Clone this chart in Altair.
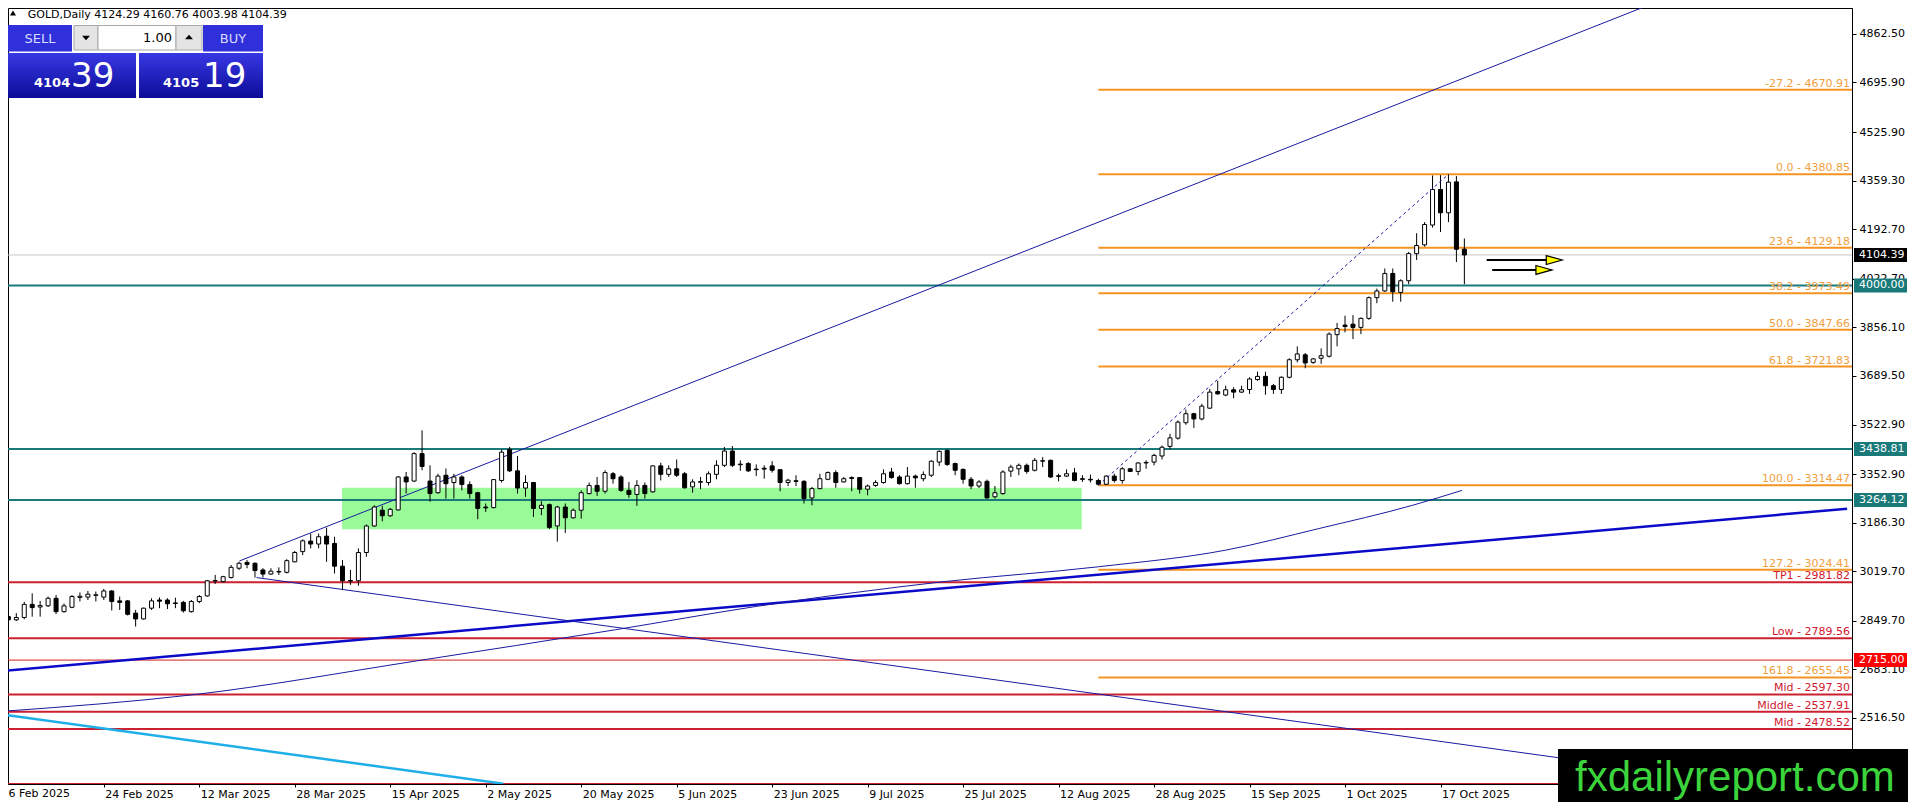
import json
import altair as alt
import pandas as pd

# ---------------- data ----------------
x_labels = ["6 Feb 2025", "24 Feb 2025", "12 Mar 2025", "28 Mar 2025", "15 Apr 2025",
            "2 May 2025", "20 May 2025", "5 Jun 2025", "23 Jun 2025", "9 Jul 2025",
            "25 Jul 2025", "12 Aug 2025", "28 Aug 2025", "15 Sep 2025", "1 Oct 2025",
            "17 Oct 2025"]
x_tick_idx = [0, 12, 24, 36, 48, 60, 72, 84, 96, 108, 120, 132, 144, 156, 168, 180]

y_ticks = [4862.50, 4695.90, 4525.90, 4359.30, 4192.70, 4022.70, 3856.10, 3689.50,
           3522.90, 3352.90, 3186.30, 3019.70, 2849.70, 2683.10, 2516.50]

opens = [2864, 2853, 2861, 2906, 2897, 2901, 2927, 2881, 2896, 2930,
         2931, 2937, 2931, 2952, 2918, 2918, 2876, 2856, 2893, 2921,
         2921, 2911, 2913, 2881, 2916, 2935, 2986, 2984, 2998, 3030,
         3050, 3047, 3024, 3010, 3017, 3016, 3052, 3087, 3123, 3113,
         3140, 3115, 3037, 2988, 2987, 3084, 3175, 3229, 3210, 3230,
         3343, 3329, 3423, 3329, 3289, 3349, 3324, 3343, 3317, 3289,
         3240, 3238, 3331, 3437, 3364, 3305, 3324, 3235, 3248, 3175,
         3240, 3203, 3229, 3286, 3314, 3294, 3354, 3343, 3297, 3283,
         3314, 3292, 3381, 3352, 3371, 3354, 3309, 3325, 3324, 3352,
         3383, 3432, 3387, 3389, 3370, 3373, 3381, 3368, 3324, 3330,
         3328, 3271, 3303, 3335, 3358, 3326, 3341, 3341, 3301, 3314,
         3324, 3360, 3343, 3320, 3346, 3337, 3349, 3394, 3434, 3389,
         3369, 3335, 3312, 3328, 3275, 3286, 3363, 3371, 3383, 3366,
         3397, 3400, 3347, 3346, 3357, 3337, 3335, 3331, 3318, 3346,
         3331, 3371, 3362, 3391, 3394, 3415, 3448, 3476, 3529, 3560,
         3542, 3579, 3636, 3624, 3642, 3634, 3643, 3677, 3688, 3656,
         3643, 3685, 3745, 3762, 3736, 3750, 3757, 3831, 3864, 3867,
         3856, 3887, 3958, 3981, 4041, 3976, 4016, 4109, 4139, 4207,
         4329, 4249, 4355, 4124.29]
highs = [2870, 2876, 2915, 2944, 2918, 2933, 2938, 2909, 2938, 2947,
         2952, 2950, 2959, 2955, 2933, 2921, 2887, 2895, 2927, 2930,
         2927, 2929, 2918, 2921, 2938, 2990, 3007, 3004, 3041, 3052,
         3058, 3050, 3030, 3030, 3033, 3061, 3089, 3129, 3149, 3149,
         3169, 3138, 3058, 3024, 3098, 3180, 3246, 3244, 3237, 3346,
         3360, 3428, 3503, 3383, 3354, 3372, 3354, 3349, 3328, 3292,
         3252, 3335, 3437, 3446, 3415, 3349, 3326, 3260, 3252, 3244,
         3252, 3235, 3297, 3324, 3343, 3366, 3360, 3349, 3326, 3332,
         3324, 3383, 3392, 3383, 3403, 3360, 3335, 3343, 3362, 3400,
         3446, 3449, 3400, 3394, 3386, 3383, 3397, 3369, 3337, 3349,
         3332, 3309, 3354, 3362, 3366, 3343, 3345, 3343, 3317, 3332,
         3369, 3374, 3349, 3377, 3351, 3362, 3400, 3434, 3438, 3392,
         3372, 3343, 3332, 3334, 3312, 3366, 3385, 3389, 3389, 3408,
         3411, 3403, 3354, 3369, 3374, 3349, 3351, 3337, 3349, 3354,
         3377, 3374, 3394, 3400, 3423, 3451, 3491, 3537, 3574, 3563,
         3594, 3645, 3673, 3656, 3651, 3656, 3685, 3704, 3704, 3662,
         3688, 3750, 3791, 3768, 3750, 3784, 3839, 3871, 3896, 3898,
         3890, 3962, 3989, 4058, 4058, 4021, 4115, 4179, 4217, 4377,
         4378, 4380.85, 4375, 4160.76]
lows = [2841, 2849, 2855, 2864, 2864, 2897, 2873, 2878, 2893, 2916,
        2921, 2916, 2921, 2885, 2887, 2868, 2830, 2854, 2887, 2893,
        2890, 2893, 2878, 2878, 2910, 2933, 2976, 2982, 2995, 3024,
        3030, 2998, 2998, 3007, 3007, 3012, 3050, 3075, 3098, 3098,
        3052, 3012, 2955, 2973, 2970, 3069, 3172, 3191, 3206, 3228,
        3286, 3326, 3366, 3258, 3286, 3269, 3269, 3297, 3269, 3198,
        3223, 3235, 3324, 3360, 3286, 3275, 3206, 3212, 3164, 3121,
        3151, 3200, 3200, 3283, 3278, 3286, 3320, 3292, 3271, 3244,
        3269, 3289, 3331, 3343, 3343, 3303, 3289, 3301, 3314, 3335,
        3377, 3377, 3364, 3360, 3346, 3337, 3358, 3294, 3312, 3312,
        3252, 3246, 3301, 3332, 3306, 3324, 3294, 3286, 3280, 3309,
        3320, 3337, 3317, 3317, 3306, 3328, 3343, 3381, 3381, 3349,
        3320, 3301, 3305, 3269, 3269, 3282, 3343, 3349, 3354, 3362,
        3377, 3340, 3328, 3343, 3328, 3326, 3324, 3314.47, 3316, 3324,
        3320, 3360, 3349, 3371, 3383, 3403, 3438, 3471, 3522, 3511,
        3537, 3577, 3625, 3620, 3613, 3631, 3628, 3673, 3625, 3628,
        3628, 3681, 3736, 3716, 3731, 3731, 3753, 3791, 3839, 3816,
        3833, 3882, 3939, 3978, 3944, 3944, 4004, 4087, 4133, 4198,
        4183, 4217, 4080, 4003.98]
closes = [2853, 2861, 2906, 2895, 2902, 2927, 2881, 2901, 2933, 2934,
          2941, 2939, 2952, 2916, 2913, 2872, 2856, 2893, 2918, 2917,
          2908, 2909, 2884, 2916, 2933, 2987, 2988, 3001, 3033, 3047,
          3043, 3022, 3010, 3020, 3019, 3056, 3084, 3124, 3113, 3138,
          3113, 3037, 2987, 2986, 3084, 3175, 3240, 3210, 3232, 3343,
          3326, 3423, 3379, 3286, 3346, 3320, 3343, 3317, 3286, 3235,
          3237, 3334, 3428, 3364, 3305, 3324, 3235, 3246, 3170, 3240,
          3203, 3229, 3289, 3314, 3294, 3358, 3337, 3297, 3283, 3314,
          3286, 3381, 3352, 3371, 3349, 3306, 3326, 3327, 3354, 3383,
          3432, 3383, 3385, 3364, 3368, 3370, 3366, 3324, 3332, 3328,
          3269, 3303, 3337, 3358, 3324, 3337, 3338, 3301, 3312, 3324,
          3354, 3341, 3320, 3346, 3340, 3351, 3397, 3431, 3386, 3366,
          3335, 3312, 3326, 3271, 3289, 3360, 3377, 3383, 3362, 3400,
          3399, 3343, 3345, 3354, 3331, 3335, 3333, 3318, 3346, 3331,
          3371, 3362, 3391, 3393, 3417, 3445, 3477, 3531, 3560, 3542,
          3586, 3634, 3628, 3642, 3634, 3642, 3679, 3688, 3656, 3643,
          3685, 3745, 3765, 3734, 3748, 3759, 3833, 3852, 3859, 3856,
          3887, 3958, 3981, 4041, 3978, 4016, 4109, 4137, 4209, 4329,
          4249, 4354, 4124, 4104.39]

bid_ask = [4104.39, 4105.19]
lot_size = "1.00"
symbol = "GOLD,Daily"

fib_levels = ["-27.2", "0.0", "23.6", "38.2", "50.0", "61.8", "100.0", "127.2", "161.8"]
fib_prices = [4670.91, 4380.85, 4129.18, 3973.49, 3847.66, 3721.83, 3314.47, 3024.41, 2655.45]
fib_start = [137]
fib_anchor_i = [137, 181]
fib_anchor_p = [3314.47, 4380.85]

red_names = ["TP1", "Low", "Mid", "Middle", "Mid"]
red_levels = [2981.82, 2789.56, 2597.30, 2537.91, 2478.52]
red_bottom = [2290.0]
thin_red_level = [2715.00]
teal_levels = [4000.00, 3438.81, 3264.12]

zone_i = [41.95, 134.9]
zone_p = [3164, 3306]

up_line_i = [29.05, 206.6]
up_line_p = [3055, 4966]
down_line_i = [31.2, 218.7]
down_line_p = [2998, 2290]
thick_line_i = [-0.4, 231.1]
thick_line_p = [2678, 3234]
cyan_line_i = [-0.4, 62.2]
cyan_line_p = [2527, 2291]
ma_i = [-0.4, 23.2, 51.5, 76.3, 94.0, 117.6, 137.0, 153.0, 164.7, 176.5, 182.7]
ma_p = [2540, 2596, 2713, 2819, 2899, 2984, 3035, 3092, 3166, 3246, 3297]

arrow_i0 = [185.8, 186.5]
arrow_i1 = [193.3, 192.0]
arrow_head_i = [194.3, 193.0]
arrow_p = [4087, 4053]

watermark = "fxdailyreport.com"

# ---------------- styling ----------------
W, H = 1844, 776
FONT = "DejaVu Sans"
TEAL = "#1A7A7A"
ORANGE = "#F39322"
ORANGE_T = "#F0A040"
RED = "#CC2030"
RED_T = "#D01830"
NAVY = "#1A1AA0"

XS = alt.Scale(domain=[0.5875, 231.09], nice=False, zero=False)
YS = alt.Scale(domain=[2290.0, 4951.4], nice=False, zero=False)
label_expr = "%s[indexof(%s, datum.value)]" % (json.dumps(x_labels), json.dumps(x_tick_idx))
XAX = alt.Axis(orient="bottom", values=x_tick_idx[1:], labelExpr=label_expr, labelAlign="left",
               labelOffset=1, labelPadding=1, tickSize=3, grid=False, title=None,
               labelFont=FONT, labelFontSize=11, labelColor="black", tickColor="black",
               domainColor="black", labelOverlap=False, labelFlush=False, labelBaseline="top")
YAX = alt.Axis(orient="right", values=y_ticks, format=".2f", grid=False, title=None,
               labelFont=FONT, labelFontSize=11, labelColor="black", tickColor="black",
               domainColor="black", tickSize=4, labelPadding=3, labelOverlap=False,
               labelFlush=False, labelBaseline="middle")


def X(f):
    return alt.X(f"{f}:Q", scale=XS, axis=XAX)


def Y(f):
    return alt.Y(f"{f}:Q", scale=YS, axis=YAX)


one = pd.DataFrame({"k": [0]})


def box(x1, y1, x2, y2, fill, stroke=None):
    kw = dict(fill=fill)
    if stroke:
        kw.update(stroke=stroke, strokeWidth=1)
    else:
        kw.update(strokeWidth=0)
    return alt.Chart(one).mark_rect(**kw).encode(
        x=alt.value(x1), x2=alt.value(x2), y=alt.value(y1), y2=alt.value(y2))


def txt(x, y, text, size=11, color="black", align="left", baseline="alphabetic",
        weight="normal", font=FONT):
    return alt.Chart(one).mark_text(text=text, fontSize=size, color=color, align=align,
                                    baseline=baseline, fontWeight=weight, font=font).encode(
        x=alt.value(x), y=alt.value(y))


def glyph(x, y, path, size, color="black"):
    return alt.Chart(one).mark_point(shape=path, size=size, filled=True, color=color,
                                     opacity=1, strokeWidth=0).encode(
        x=alt.value(x), y=alt.value(y))


layers = []

# green zone
zone = pd.DataFrame({"i0": [zone_i[0]], "i1": [zone_i[1]], "p0": [zone_p[0]], "p1": [zone_p[1]]})
layers.append(alt.Chart(zone).mark_rect(color="#98FB98", opacity=1, clip=True).encode(
    x=X("i0"), x2="i1", y=Y("p0"), y2="p1"))

# current price line (grey)
layers.append(alt.Chart(pd.DataFrame({"p": [closes[-1]]})).mark_rule(
    color="#C4C4C4", strokeWidth=1).encode(y=Y("p")))
# teal lines
layers.append(alt.Chart(pd.DataFrame({"p": teal_levels})).mark_rule(
    color=TEAL, strokeWidth=2).encode(y=Y("p")))
# red lines
layers.append(alt.Chart(pd.DataFrame({"p": red_levels + red_bottom})).mark_rule(
    color=RED, strokeWidth=2, clip=True).encode(y=Y("p")))
layers.append(alt.Chart(pd.DataFrame({"p": thin_red_level})).mark_rule(
    color="#D21E1E", strokeWidth=1).encode(y=Y("p")))
# fib lines
fib_df = pd.DataFrame({"i": fib_start * len(fib_prices), "p": fib_prices,
                       "t": [f"{l} - {p:.2f}" for l, p in zip(fib_levels, fib_prices)]})
layers.append(alt.Chart(fib_df).mark_rule(color=ORANGE, strokeWidth=2).encode(
    x=X("i"), x2=alt.value(W), y=Y("p")))


# trend lines
def seg(ii, pp, color, width, dash=None):
    kw = dict(color=color, strokeWidth=width, clip=True)
    if dash:
        kw["strokeDash"] = dash
    return alt.Chart(pd.DataFrame({"i": ii, "p": pp})).mark_line(**kw).encode(
        x=X("i"), y=Y("p"))


layers.append(seg(thick_line_i, thick_line_p, "#0A0AC8", 2.5))
layers.append(seg(up_line_i, up_line_p, NAVY, 1))
layers.append(seg(down_line_i, down_line_p, NAVY, 1))
layers.append(seg(cyan_line_i, cyan_line_p, "#1EAEE8", 2.5))
layers.append(alt.Chart(pd.DataFrame({"i": ma_i, "p": ma_p})).mark_line(
    color=NAVY, strokeWidth=1, clip=True, interpolate="monotone").encode(x=X("i"), y=Y("p")))

# candles
cdf = pd.DataFrame({"i": list(range(len(opens))), "o": opens, "h": highs, "l": lows, "c": closes})
layers.append(alt.Chart(cdf).mark_rule(color="black", strokeWidth=1, clip=True).encode(
    x=X("i"), y=Y("l"), y2="h"))
layers.append(alt.Chart(cdf).mark_bar(size=4, stroke="black", strokeWidth=1, clip=True,
                                      orient="vertical").encode(
    x=X("i"), y=Y("o"), y2="c",
    fill=alt.condition("datum.c >= datum.o", alt.value("white"), alt.value("black"))))

# fib anchor dashed line
layers.append(seg(fib_anchor_i, fib_anchor_p, NAVY, 1, dash=[3, 3]))

# arrows
adf = pd.DataFrame({"i0": arrow_i0, "i1": arrow_i1, "ih": arrow_head_i, "p": arrow_p})
layers.append(alt.Chart(adf).mark_rule(color="black", strokeWidth=2).encode(
    x=X("i0"), x2="i1", y=Y("p")))
layers.append(alt.Chart(adf).mark_point(shape="M-1,-0.56L1,0L-1,0.56Z", size=256, filled=True,
                                        fill="#FFFF00", stroke="black", strokeWidth=1.2,
                                        opacity=1).encode(x=X("ih"), y=Y("p")))

# level labels
layers.append(alt.Chart(fib_df).mark_text(align="right", baseline="alphabetic", dy=-3,
                                          font=FONT, fontSize=11, color=ORANGE_T).encode(
    x=alt.value(W - 2), y=Y("p"), text="t:N"))
red_df = pd.DataFrame({"p": red_levels, "t": [f"{n} - {p:.2f}" for n, p in zip(red_names, red_levels)]})
layers.append(alt.Chart(red_df).mark_text(align="right", baseline="alphabetic", dy=-3,
                                          font=FONT, fontSize=11, color=RED_T).encode(
    x=alt.value(W - 2), y=Y("p"), text="t:N"))

# price-axis boxes
box_df = pd.DataFrame({
    "p": [closes[-1]] + teal_levels + thin_red_level,
    "bg": ["#000000"] + [TEAL] * len(teal_levels) + ["#FF0000"],
})
box_df["t"] = [f"{v:.2f}" for v in box_df["p"]]
layers.append(alt.Chart(box_df).mark_point(shape="M-1,-0.264L1,-0.264L1,0.264L-1,0.264Z",
                                           size=53 * 53, filled=True, opacity=1,
                                           strokeWidth=0).encode(
    x=alt.value(W + 28.5), y=Y("p"), fill=alt.Fill("bg:N", scale=None)))
layers.append(alt.Chart(box_df).mark_text(align="left", baseline="middle", font=FONT,
                                          fontSize=11, color="white").encode(
    x=alt.value(W + 7), y=Y("p"), text="t:N"))

# first date label (its tick lies left of the frame)
layers.append(txt(0.5, H + 4, x_labels[0], baseline="top"))

# header
layers.append(glyph(5, 5, "M0,-0.8L1,0.8L-1,0.8Z", 36))
layers.append(txt(19.7, 9.5, f"{symbol}  {opens[-1]:.2f} {highs[-1]:.2f} {lows[-1]:.2f} {closes[-1]:.2f}"))

# trade panel
GRAD = alt.Gradient(gradient="linear",
                    stops=[alt.GradientStop(color="#3838E4", offset=0),
                           alt.GradientStop(color="#0C0C98", offset=1)],
                    x1=0, y1=0, x2=0, y2=1)
layers.append(box(0, 17, 64, 43.5, "#3030DA"))
layers.append(box(195, 17, 255, 43.5, "#3030DA"))
layers.append(box(0, 45, 128, 90, GRAD))
layers.append(box(131, 45, 255, 90, GRAD))
layers.append(box(66, 17.5, 90, 42, "#E4E4E4", "#A8A8A8"))
layers.append(box(90, 17.5, 168, 42, "#FFFFFF", "#A8A8A8"))
layers.append(box(168, 17.5, 194, 42, "#E4E4E4", "#A8A8A8"))
layers.append(glyph(78, 30, "M-1,-0.55L1,-0.55L0,0.55Z", 64))
layers.append(glyph(181, 29, "M-1,0.55L1,0.55L0,-0.55Z", 64))
layers.append(txt(32, 30.5, "SELL", size=13, color="#D8DCFF", align="center", baseline="middle"))
layers.append(txt(225, 30.5, "BUY", size=13, color="#D8DCFF", align="center", baseline="middle"))
layers.append(txt(164, 30, lot_size, size=13, align="right", baseline="middle"))
bid_s = f"{bid_ask[0]:.2f}".split(".")
ask_s = f"{bid_ask[1]:.2f}".split(".")
layers.append(txt(26, 79, bid_s[0], size=13, color="white", weight="bold"))
layers.append(txt(63, 79, bid_s[1], size=34, color="white"))
layers.append(txt(155, 79, ask_s[0], size=13, color="white", weight="bold"))
layers.append(txt(195, 79, ask_s[1], size=34, color="white"))

# watermark
layers.append(box(1550, 741, 1900, 800, "#000000"))
layers.append(txt(1567, 782.7, watermark, size=42, color="#3CD43C", font="Liberation Sans"))

chart = alt.layer(*layers).properties(
    width=W, height=H,
    padding={"left": 0, "top": 0, "right": 56, "bottom": 18},
    autosize=alt.AutoSizeParams(type="none"),
    background="white",
).configure_view(stroke="black", strokeWidth=1)

chart.save("out.html", embed_options={"renderer": "svg", "actions": False})
